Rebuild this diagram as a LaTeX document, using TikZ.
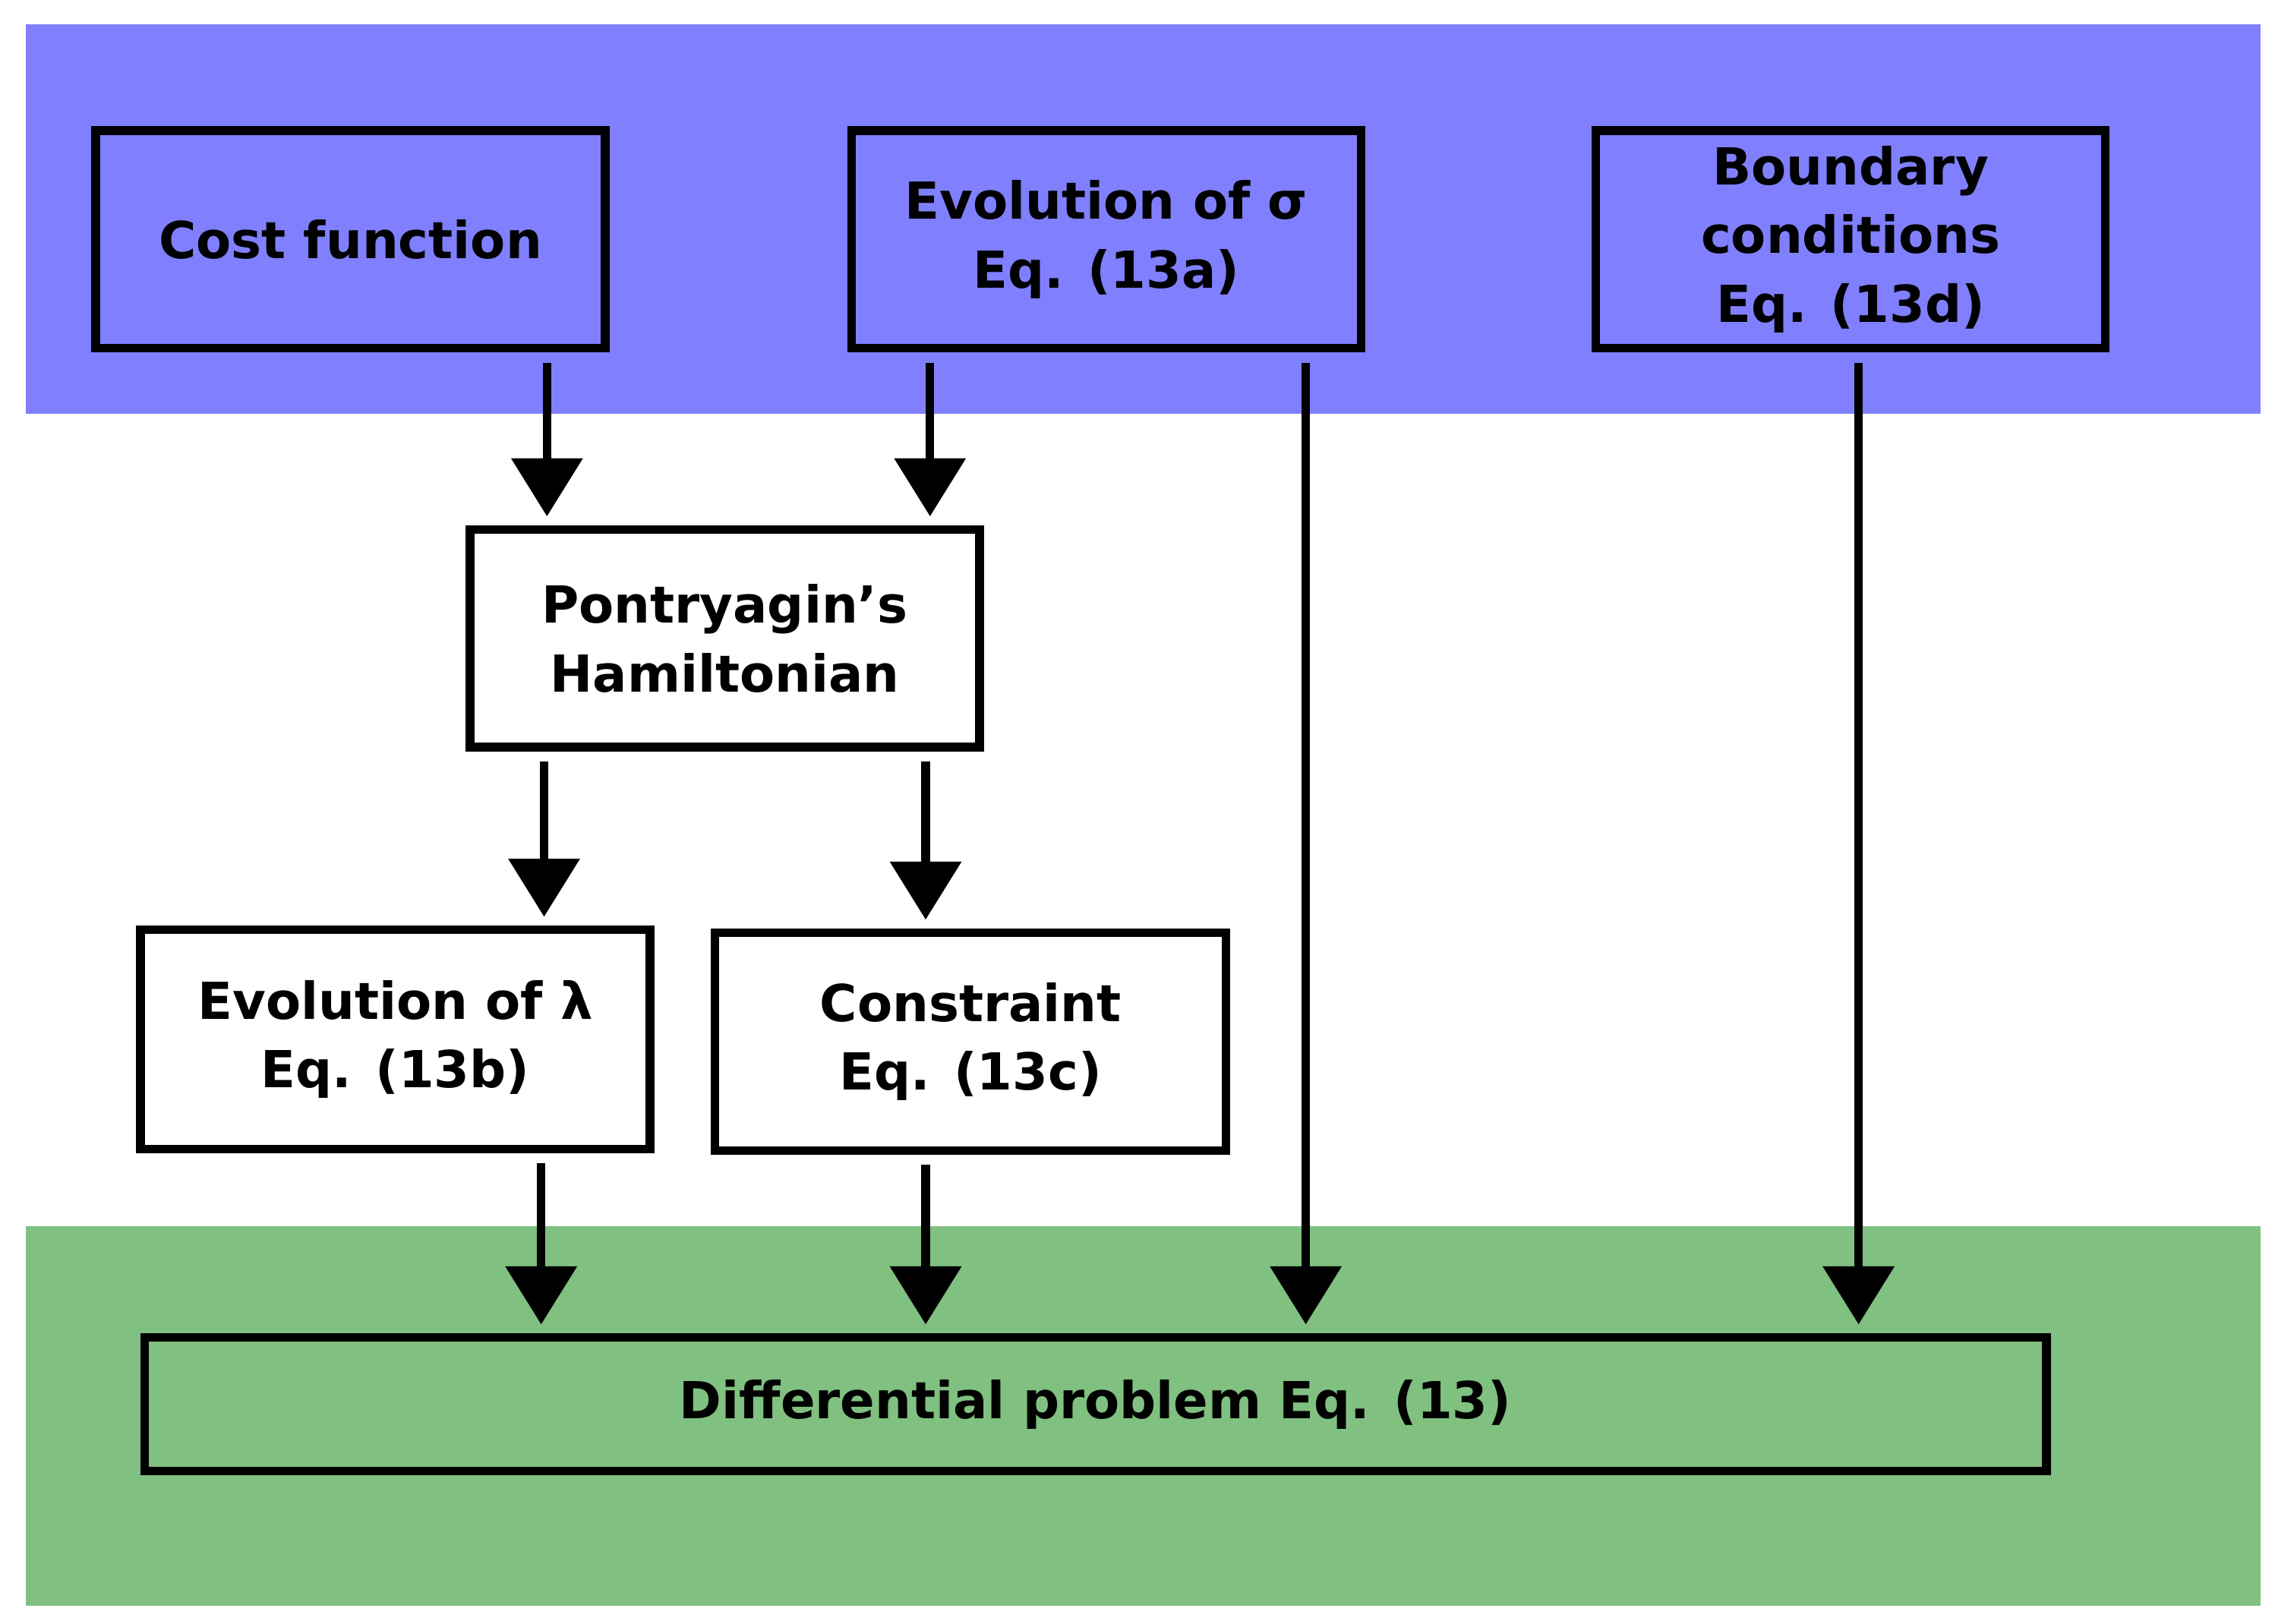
\documentclass[tikz,border=0pt]{standalone}
\usepackage{fontspec}
\setmainfont{DejaVu Sans}
\usetikzlibrary{arrows.meta}
\definecolor{bandblue}{HTML}{8080FF}
\definecolor{bandgreen}{HTML}{80C080}
\begin{document}
\begin{tikzpicture}[x=0.01cm,y=-0.01cm,
  box/.style={draw=black,line width=1.7pt,inner sep=0pt,align=center,font=\fontsize{10pt}{13.5pt}\selectfont\bfseries},
  arr/.style={line width=1.7pt,-{Triangle[length=0.4cm,width=0.48cm]},shorten <=0.07cm,shorten >=0.06cm}]
\useasboundingbox (0,0) rectangle (1568,1119);
\fill[bandblue] (18,17) rectangle (1558,285);
\fill[bandgreen] (18,845) rectangle (1558,1107);
\node[box,minimum width=3.51cm,minimum height=1.5cm] (cost) at (241.5,165) {Cost function};
\node[box,minimum width=3.51cm,minimum height=1.5cm] (sig) at (762.5,165) {Evolution of σ\\Eq. (13a)};
\node[box,minimum width=3.51cm,minimum height=1.5cm] (bc) at (1275.5,165) {Boundary\\conditions\\Eq. (13d)};
\node[box,fill=white,minimum width=3.51cm,minimum height=1.5cm] (pon) at (499.5,440) {Pontryagin's\\Hamiltonian};
\node[box,fill=white,minimum width=3.51cm,minimum height=1.51cm] (lam) at (272.5,716.5) {Evolution of λ\\Eq. (13b)};
\node[box,fill=white,minimum width=3.52cm,minimum height=1.5cm] (con) at (669,718) {Constraint\\Eq. (13c)};
\node[box,minimum width=13.1cm,minimum height=0.92cm] (dp) at (755,968) {Differential problem Eq. (13)};
\draw[arr] (cost.south -| 377,0) -- (pon.north -| 377,0);
\draw[arr] (sig.south -| 641,0) -- (pon.north -| 641,0);
\draw[arr] (sig.south -| 900,0) -- (dp.north -| 900,0);
\draw[arr] (bc.south -| 1281,0) -- (dp.north -| 1281,0);
\draw[arr] (pon.south -| 375,0) -- (lam.north -| 375,0);
\draw[arr] (pon.south -| 638,0) -- (con.north -| 638,0);
\draw[arr] (lam.south -| 373,0) -- (dp.north -| 373,0);
\draw[arr] (con.south -| 638,0) -- (dp.north -| 638,0);
\end{tikzpicture}
\end{document}
